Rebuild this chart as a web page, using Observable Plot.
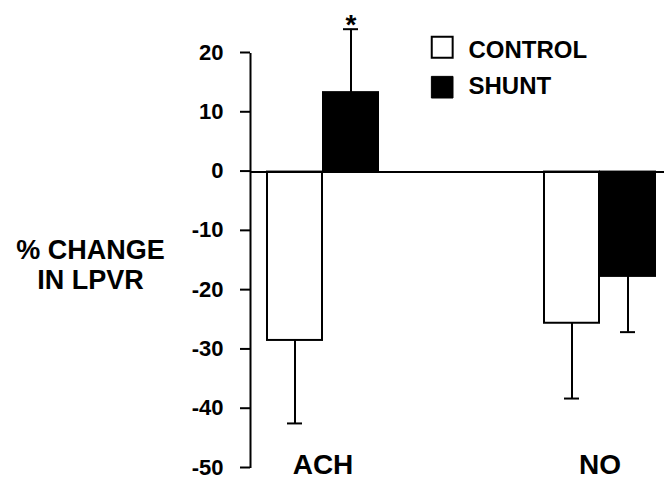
<!DOCTYPE html>
<html><head><meta charset="utf-8">
<script src="https://cdn.jsdelivr.net/npm/d3@7"></script>
<script src="https://cdn.jsdelivr.net/npm/@observablehq/plot@0.6"></script>
<style>body{margin:0;background:#fff}</style>
</head><body><div id="chart"></div>
<script>
const groups = ["ACH", "NO"];
const series = ["CONTROL", "SHUNT"];
const controlMean = [-28.4, -25.5];
const controlSD = [14.0, 12.7];
const shuntMean = [13.4, -17.6];
const shuntSD = [10.7, 9.4];
const yTicks = [20, 10, 0, -10, -20, -30, -40, -50];
const significantShunt = ["ACH"];
const yLabel = "% CHANGE\nIN LPVR";

const rows = [];
groups.forEach((g, i) => {
  rows.push({group: g, series: "CONTROL", mean: controlMean[i], sd: controlSD[i]});
  rows.push({group: g, series: "SHUNT", mean: shuntMean[i], sd: shuntSD[i]});
});
rows.forEach(d => d.end = d.mean + Math.sign(d.mean) * d.sd);

const W = 664, H = 480, ML = 250, MR = 0, MT = 53, MB = 12;
const font = "'Liberation Sans', Arial, Helvetica, sans-serif";
const off = {CONTROL: -28, SHUNT: 28};
const fills = {CONTROL: "white", SHUNT: "black"};

const seriesMarks = series.flatMap(s => {
  const data = rows.filter(d => d.series === s);
  return [
    Plot.ruleX(data, {x: "group", y1: "mean", y2: "end", dx: off[s], stroke: "black", strokeWidth: 2}),
    Plot.tickY(data, {x: "group", y: "end", dx: off[s], insetLeft: 20, insetRight: 20, stroke: "black", strokeWidth: 2}),
    Plot.barY(data, {x: "group", y: "mean", dx: off[s], fill: fills[s], stroke: "black", strokeWidth: 2})
  ];
});

const chart = Plot.plot({
  width: W, height: H,
  marginLeft: ML, marginRight: MR, marginTop: MT, marginBottom: MB,
  style: {fontFamily: font, fontWeight: "bold", color: "black", background: "white"},
  x: {type: "band", domain: groups, range: [294.25, 627.25], paddingInner: 0.8, paddingOuter: 0, axis: null},
  y: {domain: [-50, 20], axis: null},
  marks: [
    ...seriesMarks,
    Plot.ruleY([0], {stroke: "black", strokeWidth: 2}),
    Plot.ruleX([yTicks], {x: null, y1: d => d3.min(d), y2: d => d3.max(d), dx: ML - (ML + W - MR) / 2, stroke: "black", strokeWidth: 2}),
    Plot.axisY({ticks: yTicks, tickSize: 10, tickPadding: 17, tickFormat: d => `${d}`, fontSize: 22, fontWeight: "bold", strokeWidth: 2, label: null, dy: -1}),
    Plot.text(groups, {x: d => d, y: -50, text: d => d, lineAnchor: "bottom", dy: 5, fontSize: 28, fontWeight: "bold"}),
    Plot.text(rows.filter(d => d.series === "SHUNT" && significantShunt.includes(d.group)), {x: "group", y: "end", dx: off.SHUNT, text: () => "*", lineAnchor: "bottom", dy: 5, fontSize: 28, fontWeight: "bold"}),
    Plot.text([yLabel], {frameAnchor: "left", dx: -160, dy: 3, textAnchor: "middle", lineHeight: 1.12, fontSize: 27, fontWeight: "bold"}),
    Plot.dot([series[0]], {frameAnchor: "top-left", dx: 191.7, dy: -6.3, symbol: "square", r: 11.8, fill: "white", stroke: "black", strokeWidth: 2}),
    Plot.dot([series[1]], {frameAnchor: "top-left", dx: 191.7, dy: 33.7, symbol: "square", r: 12.2, fill: "black", stroke: "black", strokeWidth: 1}),
    Plot.text([series[0]], {frameAnchor: "top-left", dx: 218, dy: 4, text: d => d, textAnchor: "start", lineAnchor: "bottom", fontSize: 24, fontWeight: "bold"}),
    Plot.text([series[1]], {frameAnchor: "top-left", dx: 218, dy: 40.3, text: d => d, textAnchor: "start", lineAnchor: "bottom", fontSize: 24, fontWeight: "bold"})
  ]
});
document.getElementById("chart").append(chart);
</script>
</body></html>
